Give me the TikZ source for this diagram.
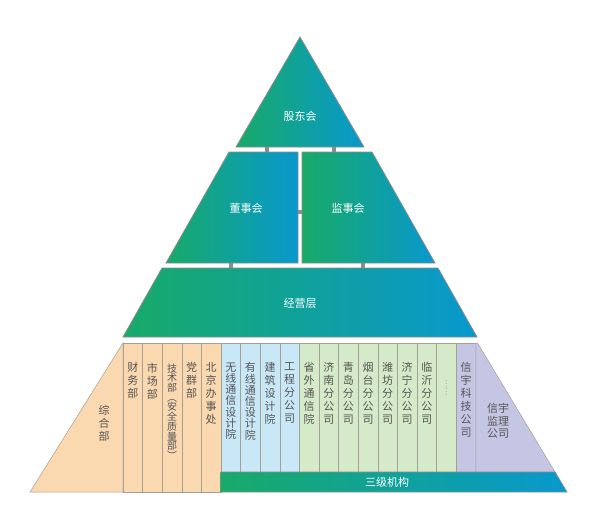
\documentclass[tikz,border=0pt]{standalone}
\usepackage{fontspec}
\setmainfont{Noto Sans CJK SC}
\definecolor{pg}{RGB}{24,170,104}
\definecolor{pb}{RGB}{8,152,206}
\definecolor{edge}{RGB}{140,140,140}
\definecolor{beige}{RGB}{250,216,176}
\definecolor{lblue}{RGB}{200,232,248}
\definecolor{lgreen}{RGB}{212,234,200}
\definecolor{lpurp}{RGB}{197,197,228}
\definecolor{txt}{RGB}{85,85,85}
\definecolor{divi}{RGB}{165,160,150}
\begin{document}
\begin{tikzpicture}[x=1pt,y=-1pt,
  tier/.style={draw=edge,line width=0.8pt,left color=pg,right color=pb},
  conn/.style={draw=edge,line width=4pt},
  head/.style={text=white,font=\fontsize{11}{13}\selectfont,inner sep=0},
  col/.style={anchor=north,inner sep=0,align=center,text=txt,font=\fontsize{11}{13}\selectfont},
  colt/.style={col,font=\fontsize{11}{11.2}\selectfont},
  cell/.style={draw=divi,line width=0.5pt}]
\useasboundingbox (0,0) rectangle (600,530);
% top tiers
\path[tier] (300,37) -- (364,147) -- (236,147) -- cycle;
\path[tier] (229,152) -- (298,152) -- (298,263) -- (166,263) -- cycle;
\path[tier] (302,152) -- (372,152) -- (435,263) -- (302,263) -- cycle;
\path[tier] (162,268) -- (438,268) -- (477,337) -- (123,337) -- cycle;
\node[head] (gdh) at (300,116) {股东会};
\node[head] (dsh) at (246,208) {董事会};
\node[head] (jsh) at (348,208) {监事会};
\node[head] (jyc) at (300,303) {经营层};
% connectors
\coordinate (a1) at (267,147.4); \coordinate (a2) at (267,151.6);
\coordinate (b1) at (334,147.4); \coordinate (b2) at (334,151.6);
\coordinate (m1) at (298.4,212); \coordinate (m2) at (301.6,212);
\coordinate (d1) at (231,263.4); \coordinate (d2) at (231,267.6);
\coordinate (e1) at (363,263.4); \coordinate (e2) at (363,267.6);
\draw[conn] (a1) -- (a2);
\draw[conn] (b1) -- (b2);
\draw[conn] (m1) -- (m2);
\draw[conn] (d1) -- (d2);
\draw[conn] (e1) -- (e2);
% bottom tier
\path[fill=beige,cell] (123,343) -- (123,492) -- (30,492) -- cycle;
\foreach \i in {0,...,4}{
  \path[fill=beige,cell] ({123+19.6*\i},343) rectangle ({123+19.6*(\i+1)},492);}
\foreach \i in {5,...,8}{
  \path[fill=lblue,cell] ({123+19.6*\i},343) rectangle ({123+19.6*(\i+1)},472);}
\foreach \i in {9,...,16}{
  \path[fill=lgreen,cell] ({123+19.6*\i},343) rectangle ({123+19.6*(\i+1)},472);}
\path[fill=lpurp,cell] (456.2,343) rectangle (475.8,472);
\path[fill=lpurp,cell] (475.8,343) -- (477.5,343) -- (555,472) -- (475.8,472) -- cycle;
\path[draw=edge,line width=0.6pt,left color=pg,right color=pb] (220.6,472) -- (555,472) -- (567,492) -- (220.6,492) -- cycle;
\node[head] (sjjg) at (387,482) {三级机构};
% texts
\node[col,anchor=center] (zhb) at (104,423) {综\\合\\部};
\node[col] (cwb) at (132.8,362.5) {财\\务\\部};
\node[col] (scb) at (152.4,362.5) {市\\场\\部};
\node[col,font=\fontsize{10}{9.7}\selectfont] (jsb) at (172,363.5) {技\\术\\部\\︵\\安\\全\\质\\量\\部\\︶};
\node[col] (dqb) at (191.6,362.5) {党\\群\\部};
\node[col] (bjb) at (211.2,362.5) {北\\京\\办\\事\\处};
\node[colt] (wx) at (230.8,362.5) {无\\线\\通\\信\\设\\计\\院};
\node[colt] (yx) at (250.4,362.5) {有\\线\\通\\信\\设\\计\\院};
\node[col] (jz) at (270,362.5) {建\\筑\\设\\计\\院};
\node[col] (gc) at (289.6,362.5) {工\\程\\分\\公\\司};
\node[col] (sw) at (309.2,362.5) {省\\外\\通\\信\\院};
\node[col] (jn) at (328.8,362.5) {济\\南\\分\\公\\司};
\node[col] (qd) at (348.4,362.5) {青\\岛\\分\\公\\司};
\node[col] (yt) at (368,362.5) {烟\\台\\分\\公\\司};
\node[col] (wf) at (387.6,362.5) {潍\\坊\\分\\公\\司};
\node[col] (jnn) at (407.2,362.5) {济\\宁\\分\\公\\司};
\node[col] (ly) at (426.8,362.5) {临\\沂\\分\\公\\司};
\node[col,text=gray!70,font=\fontsize{9}{8}\selectfont] (dots) at (446.4,380) {︙\\︙};
\node[col] (xykj) at (466,362.5) {信\\宇\\科\\技\\公\\司};
\node[col,anchor=center,font=\fontsize{11}{12.5}\selectfont] (xyjl) at (498,421) {信宇\\监理\\公司};
\end{tikzpicture}
\end{document}
